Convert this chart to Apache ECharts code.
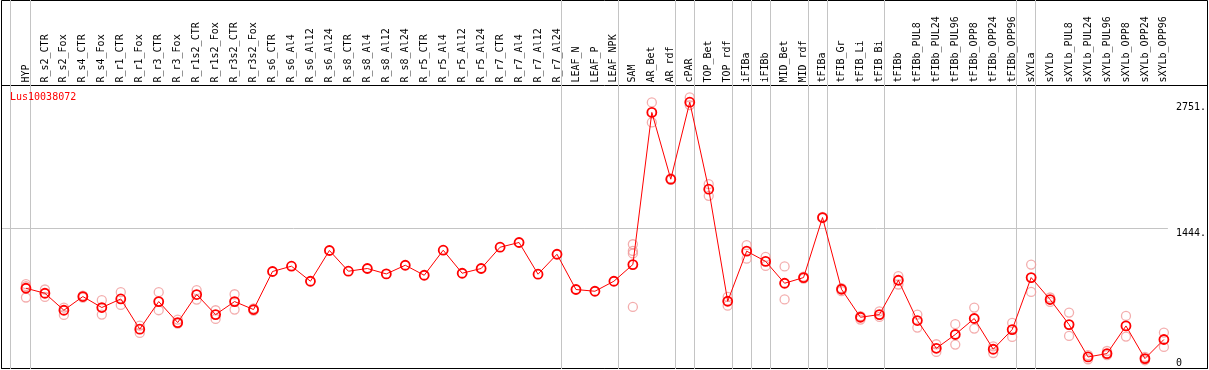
<!DOCTYPE html>
<html>
<head>
<meta charset="utf-8">
<script src="https://cdn.jsdelivr.net/npm/echarts@6/dist/echarts.min.js"></script>
<style>
html,body{margin:0;padding:0;background:#fff;}
#chart{width:1209px;height:370px;}
</style>
</head>
<body>
<div id="chart"></div>
<script>
const geneName = 'Lus10038072';

const categories = [
  'HYP','R_s2_CTR','R_s2_Fox','R_s4_CTR','R_s4_Fox','R_r1_CTR','R_r1_Fox','R_r3_CTR','R_r3_Fox',
  'R_r1s2_CTR','R_r1s2_Fox','R_r3s2_CTR','R_r3s2_Fox',
  'R_s6_CTR','R_s6_Al4','R_s6_Al12','R_s6_Al24',
  'R_s8_CTR','R_s8_Al4','R_s8_Al12','R_s8_Al24',
  'R_r5_CTR','R_r5_Al4','R_r5_Al12','R_r5_Al24',
  'R_r7_CTR','R_r7_Al4','R_r7_Al12','R_r7_Al24',
  'LEAF_N','LEAF_P','LEAF_NPK','SAM','AR_Bet','AR_rdf','cPAR','TOP_Bet','TOP_rdf',
  'iFIBa','iFIBb','MID_Bet','MID_rdf','tFIBa','tFIB_Gr','tFIB_Li','tFIB_Bi','tFIBb',
  'tFIBb_PUL8','tFIBb_PUL24','tFIBb_PUL96','tFIBb_OPP8','tFIBb_OPP24','tFIBb_OPP96',
  'sXYLa','sXYLb','sXYLb_PUL8','sXYLb_PUL24','sXYLb_PUL96','sXYLb_OPP8','sXYLb_OPP24','sXYLb_OPP96'
];

const meanValues = [
  820, 768, 592, 734, 620, 709, 395, 682, 464,
  755, 547, 682, 599,
  994, 1049, 893, 1212,
  997, 1025, 969, 1059,
  955, 1215, 976, 1025,
  1246, 1295, 966, 1173,
  807, 789, 893, 1066, 2645, 1952, 2751, 1848, 685,
  1205, 1099, 872, 931, 1554, 810, 519, 547, 903,
  485, 197, 340, 506, 187, 391,
  931, 703, 443, 107, 142, 429, 90, 288
];

const rep1 = [
  862, 807, 620, 744, 696, 779, 433, 779, 495,
  800, 592, 758, 610,
  null, null, null, null,
  null, null, null, null,
  null, null, null, null,
  null, null, null, null,
  null, null, null, 1277, 2749, 1960, 2801, 1900, 730,
  1267, 1145, 1047, 940, 1560, 820, 530, 581, 945,
  547, 239, 447, 620, 217, 460,
  1066, 724, 568, 125, 169, 533, 107, 360
];

const rep2 = [
  724, 730, 543, 724, 547, 647, 356, 592, 454,
  703, 502, 599, 589,
  null, null, null, null,
  null, null, null, null,
  null, null, null, null,
  null, null, null, null,
  null, null, null, 1208, 2541, 1945, 2721, 1779, 639,
  1127, 1052, 704, 920, 1548, 790, 495, 522, 859,
  412, 159, 236, 402, 148, 315,
  782, 678, 325, 83, 125, 319, 73, 211
];

const rep3 = categories.map(() => null);
rep3[0] = 841;
rep3[32] = 1181;
const rep4 = categories.map(() => null);
rep4[32] = 626;

const yTickValues = [0, 1444, 2751];
const gridLineValue = 1444;
// indices of the last column of each group (a separator follows each)
const groupEnds = [0, 28, 31, 34, 35, 37, 38, 39, 41, 42, 45, 52, 53, 60];

const FONT = 'DejaVu Sans Mono';
const SEP_OFFSET = 0.23;

const mainData = meanValues.map((v, i) => [i, v]);
const repData = [];
[rep1, rep2, rep3, rep4].forEach(arr => {
  arr.forEach((v, i) => { if (v !== null && v !== undefined) repData.push([i, v]); });
});

const sepLines = [{ xAxis: -0.805 }].concat(groupEnds.map(i => ({ xAxis: i + SEP_OFFSET })));
sepLines.push({ yAxis: gridLineValue });

const chart = echarts.init(document.getElementById('chart'), null, { renderer: 'canvas' });

const option = {
  animation: false,
  backgroundColor: '#ffffff',
  title: {
    text: geneName,
    left: 10,
    top: 92,
    padding: 0,
    textStyle: { color: '#ff0000', fontSize: 10, fontWeight: 'normal', fontFamily: FONT }
  },
  grid: [
    { left: 2, right: 39, top: 0, bottom: 1, show: false },
    { left: 1.5, right: 1.5, top: 0.5, bottom: 1.5, show: true, borderColor: '#000', borderWidth: 1, backgroundColor: 'transparent' },
    { left: 1.5, right: 1.5, top: 85.5, bottom: 1.5, show: true, borderColor: '#000', borderWidth: 1, backgroundColor: 'transparent' }
  ],
  xAxis: [
    {
      gridIndex: 0,
      type: 'value',
      min: -1.2632,
      max: 60.2105,
      position: 'top',
      offset: -85.5,
      axisLine: { show: false },
      axisTick: { show: false },
      splitLine: { show: false },
      axisLabel: {
        customValues: categories.map((c, i) => i),
        formatter: v => categories[Math.round(v)] || '',
        rotate: 90,
        margin: 3,
        fontSize: 10,
        fontFamily: FONT,
        color: '#000'
      }
    },
    { gridIndex: 1, type: 'value', show: false },
    { gridIndex: 2, type: 'value', show: false }
  ],
  yAxis: [
    {
      gridIndex: 0,
      type: 'value',
      position: 'right',
      min: -18,
      max: 3812,
      axisLine: { show: false },
      axisTick: { show: false },
      splitLine: { show: false },
      axisLabel: {
        customValues: yTickValues,
        margin: 8,
        fontSize: 10,
        fontFamily: FONT,
        color: '#000',
        formatter: v => v === 0 ? '{up|0}' : '{dn|' + v + '.}',
        rich: {
          up: { fontSize: 10, fontFamily: FONT, color: '#000', padding: [0, 0, 8, 0] },
          dn: { fontSize: 10, fontFamily: FONT, color: '#000', padding: [11, 0, 0, 0] }
        }
      }
    },
    { gridIndex: 1, type: 'value', show: false },
    { gridIndex: 2, type: 'value', show: false }
  ],
  series: [
    {
      type: 'scatter',
      xAxisIndex: 0,
      yAxisIndex: 0,
      data: repData,
      symbol: 'circle',
      symbolSize: 9,
      clip: false,
      z: 2,
      itemStyle: { color: 'rgba(0,0,0,0)', borderColor: '#f09a9a', borderWidth: 1.3 },
      emphasis: { disabled: true },
      silent: true
    },
    {
      type: 'line',
      xAxisIndex: 0,
      yAxisIndex: 0,
      data: mainData,
      symbol: 'circle',
      symbolSize: 9,
      showAllSymbol: true,
      clip: false,
      z: 3,
      lineStyle: { color: '#ff0000', width: 1 },
      itemStyle: { color: 'rgba(0,0,0,0)', borderColor: '#ff0000', borderWidth: 1.8 },
      emphasis: { disabled: true },
      silent: true,
      markLine: {
        silent: true,
        symbol: ['none', 'none'],
        label: { show: false },
        lineStyle: { color: '#c4c4c4', width: 1, type: 'solid' },
        emphasis: { disabled: true },
        z: 1,
        data: sepLines
      }
    }
  ]
};

chart.setOption(option);
</script>
</body>
</html>
